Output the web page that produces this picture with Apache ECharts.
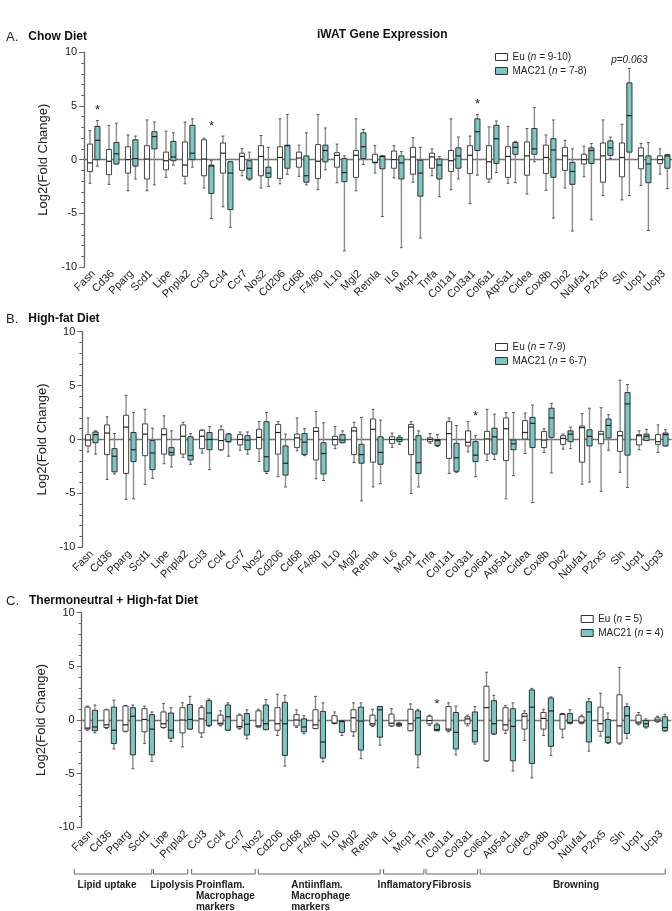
<!DOCTYPE html>
<html lang="en">
<head>
<meta charset="utf-8" />
<title>iWAT Gene Expression</title>
<script src="https://cdn.jsdelivr.net/npm/echarts@6/dist/echarts.min.js"></script>
<style>
  * { margin: 0; padding: 0; }
  html, body { background: #fff; }
  #chart-container { width: 672px; height: 911px; }
</style>
</head>
<body>
<div id="chart-container"></div>
<script>
// categories
var genes = ['Fasn', 'Cd36', 'Pparg', 'Scd1', 'Lipe', 'Pnpla2', 'Ccl3', 'Ccl4', 'Ccr7', 'Nos2',
  'Cd206', 'Cd68', 'F4/80', 'IL10', 'Mgl2', 'Retnla', 'IL6', 'Mcp1', 'Tnfa', 'Col1a1',
  'Col3a1', 'Col6a1', 'Atp5a1', 'Cidea', 'Cox8b', 'Dio2', 'Ndufa1', 'P2rx5', 'Sln', 'Ucp1', 'Ucp3'];

// [min, Q1, median, Q3, max] per gene
var chowEu = [
  [-2.2, -1.1, -0.3, 1.45, 2.7], [-2.3, -1.4, -0.15, 0.95, 3.2], [-2.9, -1.25, 0, 1.2, 2.3],
  [-2.9, -1.8, 0.05, 1.3, 3.7], [-1.65, -0.95, -0.1, 0.7, 2.65], [-2.25, -1.55, -0.5, 1.65, 3.5],
  [-2.65, -1.5, 0.05, 1.85, 2.0], [-4.4, -1.25, 0.6, 1.55, 2.2], [-1.5, -1.0, 0.3, 0.6, 1.05],
  [-2.65, -1.5, 0.3, 1.3, 2.25], [-2.25, -1.75, 0.2, 1.2, 3.8], [-1.55, -0.7, 0.15, 0.7, 1.35],
  [-2.8, -1.75, -0.15, 1.4, 4.2], [-2.15, -0.7, 0.4, 0.65, 1.45], [-2.9, -1.65, 0.4, 0.85, 3.8],
  [-1.25, -0.3, -0.25, 0.5, 1.3], [-1.7, -0.8, 0, 0.8, 1.3], [-2.1, -1.35, 0.25, 1.15, 2.05],
  [-1.5, -0.8, 0.25, 0.6, 1.0], [-2.8, -1.1, -0.1, 0.85, 3.8], [-4.1, -1.3, 0.4, 1.3, 2.2],
  [-2.1, -1.8, -0.2, 1.3, 3.05], [-2.2, -1.65, 0.3, 1.2, 3.1], [-3.2, -1.45, 0.35, 1.65, 2.9],
  [-2.85, -1.3, 0.2, 1.35, 2.3], [-2.65, -1.0, 0.35, 1.15, 1.8], [-1.6, -0.4, 0, 0.5, 1.25],
  [-3.35, -2.1, 0.35, 1.55, 3.7], [-3.75, -1.6, 0.2, 1.55, 3.3], [-2.4, -0.85, 0.35, 1.1, 1.5],
  [-1.35, -0.35, 0, 0.35, 1.0]
];
var chowMac = [
  [-0.6, 0, 1.8, 3.1, 3.65], [-0.4, -0.4, 0.55, 1.6, 3.4], [-1.8, -0.6, 0.1, 1.85, 2.2],
  [-2.35, 1.0, 2.15, 2.6, 3.5], [-0.5, -0.1, 0.25, 1.7, 2.5], [-0.7, 0, 0.6, 3.2, 3.8],
  [-5.5, -3.15, -0.6, -0.5, -0.1], [-6.3, -4.65, -1.25, -0.2, -0.2], [-1.9, -1.8, -0.8, -0.1, 0.7],
  [-2.5, -1.65, -1.25, -0.7, 1.15], [-1.35, -0.8, 1.3, 1.35, 4.2], [-2.35, -2.1, -1.5, 0.35, 2.5],
  [-0.95, -0.2, 0.85, 1.35, 2.95], [-8.5, -2.05, -1.2, 0.1, 0.35], [-0.45, 0.1, 1.2, 2.5, 2.8],
  [-5.3, -0.85, 0.3, 0.35, 0.35], [-8.2, -1.8, -0.3, 0.35, 0.75], [-7.3, -3.4, -1.25, -0.05, 1.15],
  [-3.45, -1.8, -0.5, 0.05, 0.3], [-1.8, -0.8, 0.35, 1.1, 2.1], [-1.45, 0.85, 2.6, 3.8, 4.2],
  [-1.2, -0.35, 1.95, 3.2, 3.6], [-2.15, 0.5, 1.15, 1.6, 1.7], [-0.2, 0.5, 1.0, 2.9, 4.85],
  [-5.45, -1.65, 0.9, 1.95, 3.7], [-6.65, -2.3, -1.1, -0.25, 1.0], [-5.6, -0.35, 0.85, 1.1, 1.5],
  [0.1, 0.4, 1.1, 1.75, 2.1], [-3.35, 0.7, 4.1, 7.15, 8.5], [-6.6, -2.15, -0.4, 0.35, 1.6],
  [-2.7, -0.8, 0.35, 0.45, 0.5]
];
var hfdEu = [
  [-1.15, -0.6, -0.05, 0.45, 2.0], [-3.7, -1.4, 0.6, 1.35, 2.1], [-5.55, -3.15, 1.15, 2.25, 4.1],
  [-4.15, -1.5, 0.5, 1.45, 2.8], [-2.25, -1.35, 0.45, 1.0, 2.2], [-1.65, -1.35, 0.3, 1.35, 1.6],
  [-1.25, -0.85, 0.3, 0.85, 0.9], [-1.0, -0.95, -0.1, 0.9, 1.25], [-1.0, -0.5, 0, 0.45, 0.7],
  [-2.05, -0.85, 0.2, 0.95, 1.65], [-3.45, -1.35, 0.65, 1.4, 1.65], [-1.05, -0.75, 0.15, 0.5, 2.0],
  [-3.65, -1.9, 0.75, 1.1, 2.6], [-0.85, -0.5, 0, 0.3, 1.2], [-2.15, -1.4, 0.8, 1.1, 1.6],
  [-4.4, -2.1, 0.95, 1.9, 2.8], [-0.75, -0.35, 0, 0.25, 0.6], [-5.0, -1.4, 1.15, 1.4, 1.65],
  [-0.35, -0.2, 0, 0.15, 0.55], [-3.15, -1.75, 0.55, 1.65, 2.0], [-1.15, -0.6, -0.25, 0.8, 1.65],
  [-1.95, -1.35, 0.05, 0.75, 2.8], [-5.5, -1.95, 1.0, 2.0, 2.5], [-1.3, 0.05, 0.65, 1.75, 2.45],
  [-1.2, -0.75, -0.05, 0.75, 1.0], [-0.9, -0.45, 0.1, 0.35, 0.5], [-4.15, -2.1, 1.1, 1.25, 2.4],
  [-4.8, -0.4, 0.5, 0.75, 2.95], [-3.05, -1.1, 0.35, 0.75, 5.5], [-0.95, -0.5, 0.35, 0.45, 0.8],
  [-1.2, -0.45, -0.2, 0.45, 1.35]
];
var hfdMac = [
  [-1.35, -0.3, 0.45, 0.7, 0.8], [-3.2, -3.0, -1.55, -0.85, 0.55], [-5.5, -2.05, -0.95, 0.65, 2.5],
  [-3.6, -2.8, -1.25, -0.1, 1.05], [-2.55, -1.45, -1.2, -0.75, 0.8], [-2.3, -1.9, -1.5, 0.25, 0.55],
  [-2.8, -0.95, 0, 0.65, 1.2], [-1.55, -0.2, -0.2, 0.5, 0.55], [-1.35, -0.95, -0.05, 0.35, 0.7],
  [-3.15, -2.95, -1.6, 1.65, 2.5], [-4.4, -3.3, -2.2, -0.6, 0.5], [-1.5, -1.4, -0.25, 0.55, 1.0],
  [-3.8, -3.2, -1.3, -0.3, 1.55], [-0.3, -0.3, -0.05, 0.45, 0.8], [-5.7, -2.2, -1.4, -0.45, 2.05],
  [-4.1, -2.3, -1.2, 0.25, 1.8], [-0.45, -0.2, 0, 0.2, 0.35], [-4.4, -3.15, -2.15, 0.35, 0.8],
  [-0.65, -0.55, -0.1, 0, 0.45], [-3.05, -2.95, -1.7, -0.35, 1.3], [-3.45, -2.05, -1.45, -0.2, 0.35],
  [-1.85, -1.35, 0.25, 1.05, 2.35], [-3.35, -0.95, -0.4, -0.05, 2.5], [-5.85, -0.75, 1.5, 2.05, 3.2],
  [-3.1, 0.2, 2.0, 2.9, 3.35], [-0.85, -0.2, 0.5, 0.8, 1.15], [-3.95, -0.6, 0.3, 0.9, 2.9],
  [-1.0, 0.15, 1.3, 1.9, 2.3], [-4.45, -1.45, 3.3, 4.35, 5.1], [-0.1, -0.1, 0.3, 0.5, 0.95],
  [-0.6, -0.6, 0.45, 0.6, 0.9]
];
var tnEu = [
  [-0.95, -0.85, -0.75, 1.2, 1.3], [-0.8, -0.7, -0.45, 0.95, 1.0], [-1.1, -1.05, -0.45, 1.3, 1.35],
  [-2.2, -1.1, 0.05, 1.05, 1.3], [-0.75, -0.7, -0.35, 0.75, 1.55], [-2.5, -1.2, 0, 1.15, 1.6],
  [-1.6, -1.2, 0.1, 1.15, 1.3], [-0.55, -0.45, -0.3, 0.45, 0.85], [-0.85, -0.75, -0.6, 0.45, 0.55],
  [-0.65, -0.65, -0.55, 0.85, 1.0], [-1.45, -0.95, -0.35, 1.15, 2.4], [-0.7, -0.55, 0, 0.5, 0.95],
  [-0.8, -0.8, -0.45, 0.95, 2.2], [-0.35, -0.3, -0.3, 0.4, 0.75], [-1.5, -1.1, 0.2, 0.95, 1.6],
  [-0.6, -0.5, -0.35, 0.45, 1.0], [-0.6, -0.55, -0.3, 0.55, 1.05], [-1.0, -1.0, -0.35, 1.0, 1.5],
  [-0.5, -0.35, -0.05, 0.35, 0.45], [-1.1, -1.0, -0.85, 1.25, 1.6], [-0.55, -0.35, 0.1, 0.3, 0.45],
  [-3.85, -3.8, 1.15, 3.15, 4.45], [-1.25, -0.95, -0.45, 1.15, 1.35], [-1.9, -0.85, 0.35, 0.6, 0.85],
  [-1.45, -0.85, 0.15, 0.7, 1.0], [-1.65, -0.85, 0.55, 0.55, 0.6], [-0.35, -0.3, -0.2, 0.3, 0.45],
  [-1.5, -1.05, -0.35, 1.2, 2.5], [-2.25, -2.15, -0.55, 2.35, 4.9], [-0.45, -0.35, -0.2, 0.45, 0.7],
  [-0.2, -0.15, 0, 0.2, 0.35]
];
var tnMac = [
  [-1.2, -1.0, -0.65, 0.9, 1.4], [-2.7, -2.2, -0.95, 1.2, 1.85], [-4.55, -3.25, 0.35, 1.15, 1.4],
  [-3.85, -3.25, -0.85, 0.5, 0.75], [-2.0, -1.7, -0.95, 0.65, 1.15], [-0.85, -0.85, 0.05, 1.45, 2.2],
  [-0.6, -0.5, 0.65, 1.8, 1.95], [-1.0, -0.95, 0.3, 1.4, 1.6], [-1.75, -1.4, -0.4, 0.6, 0.95],
  [-0.9, -0.9, -0.35, 1.4, 1.9], [-4.3, -3.3, -0.35, 1.65, 2.3], [-1.3, -1.1, -0.65, 0.1, 0.4],
  [-3.9, -3.55, -2.05, 0.8, 1.6], [-1.45, -1.15, -0.15, -0.1, -0.05], [-3.6, -2.8, -0.1, 1.2, 1.6],
  [-2.35, -1.6, 0.95, 1.25, 1.25], [-0.6, -0.55, -0.4, -0.3, -0.25], [-4.45, -3.25, 0.2, 0.85, 1.0],
  [-1.0, -1.0, -0.9, -0.45, -0.3], [-3.25, -2.7, -1.15, 0.7, 1.3], [-2.25, -2.05, -1.0, 0.75, 1.25],
  [-1.35, -1.3, -0.35, 1.8, 2.3], [-4.75, -3.8, -0.6, 1.05, 1.6], [-5.4, -4.05, 1.2, 2.8, 2.95],
  [-3.3, -2.45, 0.85, 2.05, 2.15], [-0.35, -0.3, -0.25, 0.6, 0.95], [-2.9, -2.05, 0.75, 1.7, 2.0],
  [-2.2, -2.1, -1.6, 0.05, 0.65], [-1.7, -1.25, 0.4, 1.25, 1.5], [-0.75, -0.65, -0.35, -0.05, 0.1],
  [-1.05, -1.0, -0.7, 0.3, 0.55]
];

// significance annotations above the MAC21 boxes: [gene, y value, text]
var chowNotes = [['Fasn', 4.9, '*'], ['Ccl3', 3.35, '*'], ['Col3a1', 5.4, '*'], ['Sln', 9.25, 'p=0.063']];
var hfdNotes = [['Col3a1', 2.4, '*']];
var tnNotes = [['Tnfa', 1.7, '*']];

var yTicks = [-10, -5, 0, 5, 10];
var legendN = [['9-10', '7-8'], ['7-9', '6-7'], ['5', '4']];

// gene groups under panel C: [label, first gene, last gene]
var geneGroups = [
  ['Lipid uptake', 'Fasn', 'Scd1'],
  ['Lipolysis', 'Lipe', 'Pnpla2'],
  ['Proinflam.\nMacrophage\nmarkers', 'Ccl3', 'Nos2'],
  ['Antiinflam.\nMacrophage\nmarkers', 'Cd206', 'Retnla'],
  ['Inflamatory', 'IL6', 'Mcp1'],
  ['Fibrosis', 'Tnfa', 'Col3a1'],
  ['Browning', 'Col6a1', 'Ucp3']
];

var TEAL = '#7bc6c1';
var FONT = 'Liberation Sans, Arial, sans-serif';

var dom = document.getElementById('chart-container');
var myChart = echarts.init(dom, null, { renderer: 'canvas' });

function toRows(arr) {
  return arr.map(function (d, i) { return [i].concat(d); });
}

function boxRenderer(offsetFrac, fill, stroke) {
  return function (params, api) {
    var i = api.value(0);
    var band = api.size([1, 0])[0];
    var x = api.coord([i, 0])[0] + band * offsetFrac;
    var y = [1, 2, 3, 4, 5].map(function (k) { return api.coord([i, api.value(k)])[1]; });
    var hw = band * 0.135, cw = band * 0.075;
    var ws = { stroke: '#8c8c8c', lineWidth: 1.4 };
    var cs = { stroke: '#555', lineWidth: 1 };
    return {
      type: 'group',
      children: [
        { type: 'line', shape: { x1: x, y1: y[4], x2: x, y2: y[3] }, style: ws },
        { type: 'line', shape: { x1: x, y1: y[1], x2: x, y2: y[0] }, style: ws },
        { type: 'line', shape: { x1: x - cw, y1: y[4], x2: x + cw, y2: y[4] }, style: cs },
        { type: 'line', shape: { x1: x - cw, y1: y[0], x2: x + cw, y2: y[0] }, style: cs },
        { type: 'rect', shape: { x: x - hw, y: y[3], width: hw * 2, height: Math.max(y[1] - y[3], 1) },
          style: { fill: fill, stroke: stroke, lineWidth: 1 } },
        { type: 'line', shape: { x1: x - hw, y1: y[2], x2: x + hw, y2: y[2] }, style: { stroke: '#222', lineWidth: 1.2 } }
      ]
    };
  };
}

function noteRenderer(notes) {
  return function (params, api) {
    var i = api.value(0);
    var band = api.size([1, 0])[0];
    var p = api.coord([i, api.value(1)]);
    var t = notes[params.dataIndex][2];
    var star = t === '*';
    return {
      type: 'text',
      x: p[0] + band * 0.195,
      y: p[1] + (star ? 3 : 0),
      style: {
        text: t, fill: '#222', align: 'center', verticalAlign: 'middle',
        fontFamily: FONT, fontSize: star ? 13 : 10, fontStyle: star ? 'normal' : 'italic'
      }
    };
  };
}

var panels = [
  { eu: chowEu, mac: chowMac, notes: chowNotes, grid: { left: 84.2, top: 52.3, width: 589, height: 214.7 },
    title: 'Chow Diet', letter: 'A.', titleTop: 28, legend: { left: 495, top: 52 } },
  { eu: hfdEu, mac: hfdMac, notes: hfdNotes, grid: { left: 82.3, top: 331.7, width: 589, height: 215.6 },
    title: 'High-fat Diet', letter: 'B.', titleTop: 310, legend: { left: 495, top: 342 } },
  { eu: tnEu, mac: tnMac, notes: tnNotes, grid: { left: 81.7, top: 612.7, width: 589, height: 214.6 },
    title: 'Thermoneutral + High-fat Diet', letter: 'C.', titleTop: 592, legend: { left: 580.7, top: 614 } }
];

var option = {
  animation: false,
  textStyle: { fontFamily: FONT },
  title: [],
  legend: [],
  grid: [],
  xAxis: [],
  yAxis: [],
  series: []
};

panels.forEach(function (p, k) {
  option.title.push({
    left: 6, top: p.titleTop, padding: 0,
    text: '{n|' + p.letter + '}  {b|' + p.title + '}',
    textStyle: {
      rich: {
        n: { fontSize: 13, fontWeight: 'normal', color: '#222', fontFamily: FONT },
        b: { fontSize: 12, fontWeight: 'bold', color: '#111', fontFamily: FONT }
      }
    }
  });
  var g = p.grid;
  option.grid.push({ left: g.left, top: g.top, width: g.width, height: g.height, outerBoundsMode: 'none' });
  option.xAxis.push({
    type: 'category', gridIndex: k, data: genes,
    axisLine: { lineStyle: { color: '#666', width: 1.3 } },
    axisTick: { alignWithLabel: true, length: 5, lineStyle: { color: '#666' } },
    axisLabel: { interval: 0, rotate: 45, fontSize: 11, margin: 5, color: '#222' },
    splitLine: { show: false }
  });
  option.yAxis.push({
    type: 'value', gridIndex: k, min: yTicks[0], max: yTicks[yTicks.length - 1], interval: 5,
    axisLine: { show: true, lineStyle: { color: '#666', width: 1.3 } },
    axisTick: { show: true, length: 5, lineStyle: { color: '#666' } },
    minorTick: { show: true, splitNumber: 5, length: 3, lineStyle: { color: '#666' } },
    splitLine: { show: false },
    axisLabel: { fontSize: 11, color: '#222', margin: 7 },
    name: 'Log2(Fold Change)', nameLocation: 'middle', nameGap: 27,
    nameTextStyle: { fontSize: 13, color: '#222' }
  });
  option.legend.push({
    left: p.legend.left, top: p.legend.top, orient: 'vertical', padding: 0,
    itemWidth: 12, itemHeight: 7, itemGap: 4, icon: 'rect', selectedMode: false,
    data: [
      { name: 'Eu', itemStyle: { color: '#fff', borderColor: '#333', borderWidth: 1 } },
      { name: 'MAC21', itemStyle: { color: TEAL, borderColor: '#333', borderWidth: 1 } }
    ],
    formatter: function (name) {
      var n = name === 'Eu' ? legendN[k][0] : legendN[k][1];
      return '{r|' + name + ' (}{i|n}{r| = ' + n + ')}';
    },
    textStyle: {
      color: '#222', fontSize: 10,
      rich: { r: { fontSize: 10, color: '#222' }, i: { fontSize: 10, fontStyle: 'italic', color: '#222' } }
    }
  });
  option.series.push({
    name: 'Eu', type: 'custom', xAxisIndex: k, yAxisIndex: k, z: 3,
    renderItem: boxRenderer(-0.195, '#fff', '#444'),
    encode: { x: 0, y: [1, 2, 3, 4, 5] },
    itemStyle: { color: '#fff', borderColor: '#333' },
    data: toRows(p.eu),
    markLine: {
      silent: true, symbol: ['none', 'none'], label: { show: false }, z: 1,
      lineStyle: { type: 'dotted', color: '#888', width: 1 },
      data: [{ yAxis: 0 }]
    }
  });
  option.series.push({
    name: 'MAC21', type: 'custom', xAxisIndex: k, yAxisIndex: k, z: 3,
    renderItem: boxRenderer(0.195, TEAL, '#333'),
    encode: { x: 0, y: [1, 2, 3, 4, 5] },
    itemStyle: { color: TEAL, borderColor: '#333' },
    data: toRows(p.mac)
  });
  option.series.push({
    name: 'notes' + k, type: 'custom', xAxisIndex: k, yAxisIndex: k, z: 4,
    renderItem: noteRenderer(p.notes),
    encode: { x: 0, y: 1 },
    data: p.notes.map(function (n) { return [genes.indexOf(n[0]), n[1]]; })
  });
});

option.graphic = [{
  type: 'text', left: 317, top: 29,
  style: { text: 'iWAT Gene Expression', fontFamily: FONT, fontSize: 12, fontWeight: 'bold', fill: '#111' }
}];

myChart.setOption(option);

// group brackets under panel C, placed from the category axis
var bracketDx = [[-17, 3.6], [-13.7, 1.6], [-13.6, -7], [-23, 4], [-11.6, 9.7], [-7.2, 6.5], [-10, 4]];
var labelDx = [3.4, -3, 4.3, 33, -6, 6.4, 72.7];
var gfx = option.graphic.slice();
geneGroups.forEach(function (grp, k) {
  var x0 = myChart.convertToPixel({ xAxisIndex: 2 }, genes.indexOf(grp[1])) + bracketDx[k][0];
  var x1 = myChart.convertToPixel({ xAxisIndex: 2 }, genes.indexOf(grp[2])) + bracketDx[k][1];
  gfx.push({
    type: 'polyline', silent: true,
    shape: { points: [[x0, 869], [x0, 874], [x1, 874], [x1, 869]] },
    style: { stroke: '#666', lineWidth: 1, fill: 'none' }
  });
  grp[0].split('\n').forEach(function (line, j) {
    gfx.push({
      type: 'text', silent: true, x: x0 + labelDx[k], y: 885 + j * 11,
      style: { text: line, fontFamily: FONT, fontSize: 10, fontWeight: 'bold', fill: '#222',
        align: 'left', verticalAlign: 'middle' }
    });
  });
});
myChart.setOption({ graphic: gfx });

window.addEventListener('resize', myChart.resize);
</script>
</body>
</html>
